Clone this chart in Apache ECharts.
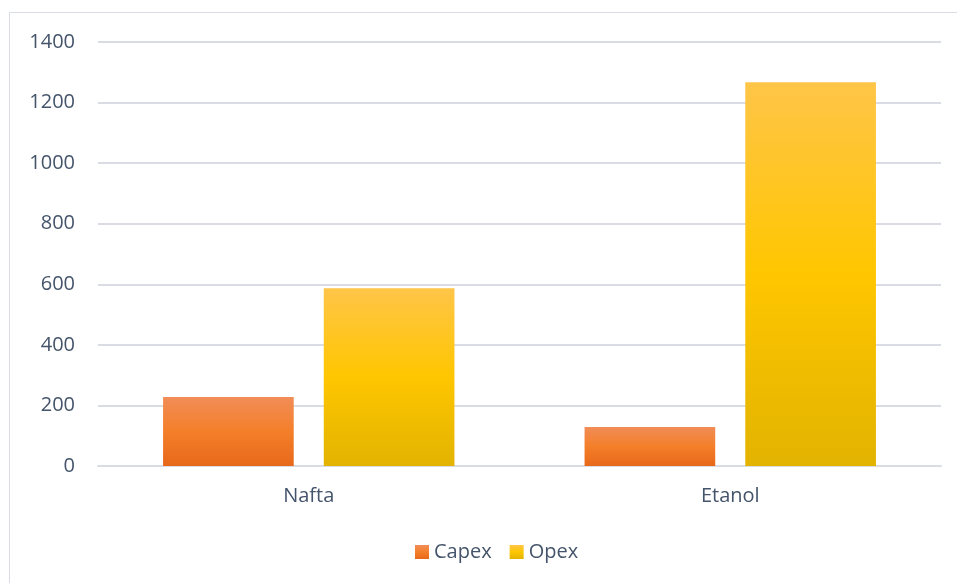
<!DOCTYPE html>
<html><head><meta charset="utf-8">
<script src="https://cdn.jsdelivr.net/npm/echarts@6/dist/echarts.min.js"></script>
<style>html,body{margin:0;padding:0;background:#fff}#c{width:957px;height:583px}</style>
</head><body><div id="c"></div>
<script>
const categories = ['Nafta', 'Etanol'];
const capex = [228, 129];
const opex = [587, 1267];
const yTicks = [0, 200, 400, 600, 800, 1000, 1200, 1400];

const chart = echarts.init(document.getElementById('c'));
const txt = '#44546A';
const font = 'Open Sans';
const grad = (a, b, c) => new echarts.graphic.LinearGradient(0, 0, 0, 1, [
  {offset: 0, color: a}, {offset: 0.5, color: b}, {offset: 1, color: c}]);
chart.setOption({
  animation: false,
  graphic: [{type: 'rect', shape: {x: 9.5, y: 12.5, width: 960, height: 600},
    style: {fill: 'none', stroke: '#D9DDE3', lineWidth: 1}, silent: true}],
  grid: {left: 98, right: 16, top: 42, bottom: 117},
  legend: {top: 537, left: 410, itemWidth: 14, itemHeight: 14, itemGap: 18,
    textStyle: {color: txt, fontSize: 20, fontFamily: font},
    data: [{name: 'Capex', icon: 'rect'}, {name: 'Opex', icon: 'rect'}]},
  xAxis: {type: 'category', data: categories,
    axisLine: {lineStyle: {color: '#D9DDE3', width: 2}}, axisTick: {show: false},
    axisLabel: {color: txt, fontSize: 20, fontFamily: font, margin: 20}},
  yAxis: {type: 'value', min: yTicks[0], max: yTicks[yTicks.length - 1], interval: 200,
    axisLine: {show: false}, axisTick: {show: false},
    splitLine: {lineStyle: {color: '#D9DDE3', width: 2}},
    axisLabel: {color: txt, fontSize: 20, fontFamily: font, margin: 23,
      formatter: v => String(v)}},
  series: [
    {name: 'Capex', type: 'bar', data: capex, barWidth: '31%', barGap: '23%',
      itemStyle: {color: grad('#F18D57', '#F47F2A', '#E7681A')}},
    {name: 'Opex', type: 'bar', data: opex, barWidth: '31%',
      itemStyle: {color: grad('#FFC548', '#FFC600', '#E2B300')}}
  ]
});
</script></body></html>
